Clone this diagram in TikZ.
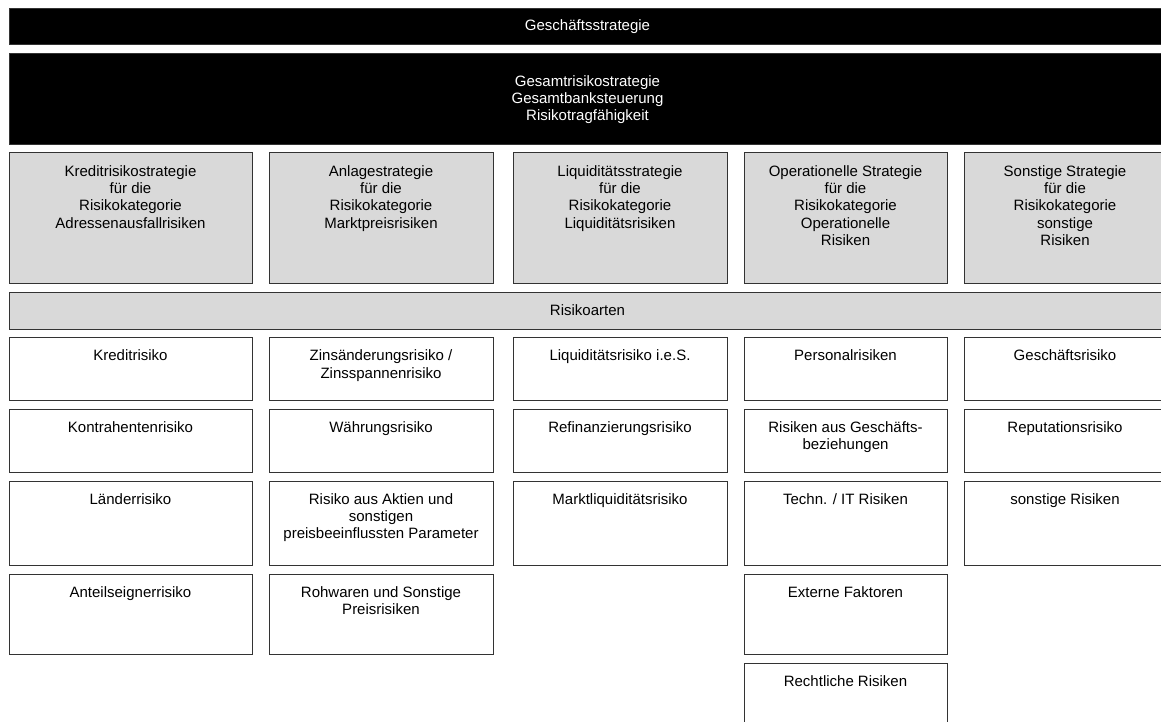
\documentclass[tikz,border=0pt]{standalone}
\usepackage{fontspec}
\setmainfont{Liberation Sans}
\usepackage{tikz}
\usetikzlibrary{positioning}

\definecolor{stratgray}{HTML}{D9D9D9}
\definecolor{edgegray}{HTML}{333333}

\begin{document}
\begin{tikzpicture}[
  x=1pt, y=-1pt,
  darkbar/.style={draw=edgegray, fill=black, line width=1pt, inner sep=0pt, outer sep=0pt, anchor=north west, minimum width=1157pt, text=white, align=center, font=\fontsize{15}{17.3}\selectfont},
  stratbox/.style={draw=edgegray, fill=stratgray, line width=1pt, inner sep=0pt, outer sep=0pt, anchor=north west, minimum height=130pt},
  riskbox/.style={draw=edgegray, fill=white, line width=1pt, inner sep=0pt, outer sep=0pt, anchor=north west},
  boxtext/.style={inner sep=0pt, outer sep=0pt, align=center, font=\fontsize{15}{17.3}\selectfont}
]
\clip (0,0) rectangle (1161,722);
\fill[white] (0,0) rectangle (1161,722);

% top bars
\node[darkbar, minimum height=36pt] (GS) at (9,9) {Gesch\"aftsstrategie};
\node[darkbar, minimum height=91pt] (GRS) at (9,54) {Gesamtrisikostrategie\\Gesamtbanksteuerung\\Risikotragf\"ahigkeit};

% strategies per risk category
\node[stratbox, minimum width=243pt] (SKredit) at (9,153) {};
\node[stratbox, minimum width=224pt] (SAnlage) at (269,153) {};
\node[stratbox, minimum width=214pt] (SLiqui)  at (513,153) {};
\node[stratbox, minimum width=203pt] (SOpRisk) at (744,153) {};
\node[stratbox, minimum width=202pt] (SSonst)  at (964,153) {};

\node[boxtext, below=12.5pt of SKredit.north] (SKreditT) {Kreditrisikostrategie\\f\"ur die\\Risikokategorie\\Adressenausfallrisiken};
\node[boxtext, below=12.5pt of SAnlage.north] (SAnlageT) {Anlagestrategie\\f\"ur die\\Risikokategorie\\Marktpreisrisiken};
\node[boxtext, below=12.5pt of SLiqui.north]  (SLiquiT)  {Liquidit\"atsstrategie\\f\"ur die\\Risikokategorie\\Liquidit\"atsrisiken};
\node[boxtext, below=12.5pt of SOpRisk.north] (SOpRiskT) {Operationelle Strategie\\f\"ur die\\Risikokategorie\\Operationelle\\Risiken};
\node[boxtext, below=12.5pt of SSonst.north]  (SSonstT)  {Sonstige Strategie\\f\"ur die\\Risikokategorie\\sonstige\\Risiken};

% Risikoarten bar
\node[stratbox, minimum width=1157pt, minimum height=37pt, font=\fontsize{15}{17.3}\selectfont] (RA) at (9,292) {Risikoarten};

% first row of risk types
\node[riskbox, minimum width=243pt, minimum height=62.5pt] (Kredit)  at (9,337.5) {};
\node[riskbox, minimum width=224pt, minimum height=62.5pt] (Zins)    at (269,337.5) {};
\node[riskbox, minimum width=214pt, minimum height=62.5pt] (LiqIeS)  at (513,337.5) {};
\node[riskbox, minimum width=203pt, minimum height=62.5pt] (Personal) at (744,337.5) {};
\node[riskbox, minimum width=202pt, minimum height=62.5pt] (Geschaeft) at (964,337.5) {};

% second row
\node[riskbox, minimum width=243pt, minimum height=63pt, below=9pt of Kredit]    (Kontra)  {};
\node[riskbox, minimum width=224pt, minimum height=63pt, below=9pt of Zins]      (Waehr)   {};
\node[riskbox, minimum width=214pt, minimum height=63pt, below=9pt of LiqIeS]    (Refi)    {};
\node[riskbox, minimum width=203pt, minimum height=63pt, below=9pt of Personal]  (GBez)    {};
\node[riskbox, minimum width=202pt, minimum height=63pt, below=9pt of Geschaeft] (Reput)   {};

% third row
\node[riskbox, minimum width=243pt, minimum height=84pt, below=9pt of Kontra] (Laender) {};
\node[riskbox, minimum width=224pt, minimum height=84pt, below=9pt of Waehr]  (Aktien)  {};
\node[riskbox, minimum width=214pt, minimum height=84pt, below=9pt of Refi]   (MLiq)    {};
\node[riskbox, minimum width=203pt, minimum height=84pt, below=9pt of GBez]   (TechIT)  {};
\node[riskbox, minimum width=202pt, minimum height=84pt, below=9pt of Reput]  (SonstR)  {};

% fourth and fifth row
\node[riskbox, minimum width=243pt, minimum height=80pt, below=9pt of Laender] (Anteil)  {};
\node[riskbox, minimum width=224pt, minimum height=80pt, below=9pt of Aktien]  (Rohw)    {};
\node[riskbox, minimum width=203pt, minimum height=80pt, below=9pt of TechIT]  (Extern)  {};
\node[riskbox, minimum width=203pt, minimum height=80pt, below=9pt of Extern]  (Recht)   {};

% labels
\node[boxtext, below=12.5pt of Kredit.north]    (KreditT)    {Kreditrisiko};
\node[boxtext, below=12.5pt of Zins.north]      (ZinsT)      {Zins\"anderungsrisiko /\\Zinsspannenrisiko};
\node[boxtext, below=12.5pt of LiqIeS.north]    (LiqIeST)    {Liquidit\"atsrisiko i.e.S.};
\node[boxtext, below=12.5pt of Personal.north]  (PersonalT)  {Personalrisiken};
\node[boxtext, below=12.5pt of Geschaeft.north] (GeschaeftT) {Gesch\"aftsrisiko};

\node[boxtext, below=12.5pt of Kontra.north] (KontraT) {Kontrahentenrisiko};
\node[boxtext, below=12.5pt of Waehr.north]  (WaehrT)  {W\"ahrungsrisiko};
\node[boxtext, below=12.5pt of Refi.north]   (RefiT)   {Refinanzierungsrisiko};
\node[boxtext, below=12.5pt of GBez.north]   (GBezT)   {Risiken aus Gesch\"afts-\\beziehungen};
\node[boxtext, below=12.5pt of Reput.north]  (ReputT)  {Reputationsrisiko};

\node[boxtext, below=12.5pt of Laender.north] (LaenderT) {L\"anderrisiko};
\node[boxtext, below=12.5pt of Aktien.north]  (AktienT)  {Risiko aus Aktien und\\sonstigen\\preisbeeinflussten Parameter};
\node[boxtext, below=12.5pt of MLiq.north]    (MLiqT)    {Marktliquidit\"atsrisiko};
\node[boxtext, below=12.5pt of TechIT.north]  (TechITT)  {Techn. / IT Risiken};
\node[boxtext, below=12.5pt of SonstR.north]  (SonstRT)  {sonstige Risiken};

\node[boxtext, below=12.5pt of Anteil.north] (AnteilT) {Anteilseignerrisiko};
\node[boxtext, below=12.5pt of Rohw.north]   (RohwT)   {Rohwaren und Sonstige\\Preisrisiken};
\node[boxtext, below=12.5pt of Extern.north] (ExternT) {Externe Faktoren};
\node[boxtext, below=12.5pt of Recht.north]  (RechtT)  {Rechtliche Risiken};

\end{tikzpicture}
\end{document}
